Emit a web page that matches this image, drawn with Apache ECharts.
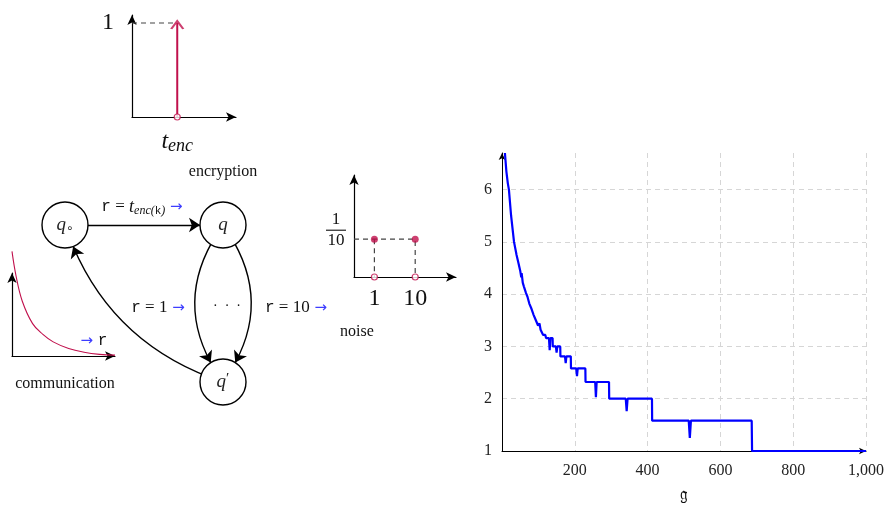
<!DOCTYPE html>
<html>
<head>
<meta charset="utf-8">
<script src="https://cdn.jsdelivr.net/npm/echarts@6/dist/echarts.min.js"></script>
<style>
  html, body { margin: 0; padding: 0; background: #fff; }
  #chart { width: 890px; height: 509px; }
</style>
</head>
<body>
<div id="chart"></div>
<script>
// main plot (cost against g)
const gValues = [8, 12, 16, 19, 25, 33, 40, 45, 50, 53, 54, 57, 60, 62, 66, 70, 72, 75, 78, 81, 84, 87, 91, 93, 97, 99, 103, 106, 111, 113, 119, 121, 129, 131, 133, 139, 139.5, 148, 150, 152, 160, 160.5, 173, 175, 177, 189, 189.5, 204, 206, 208, 229, 229.5, 256, 258, 260, 294, 294.5, 340, 342.5, 345, 412, 412.5, 513, 516, 519, 686, 687, 1000]
const costValues = [6.70, 6.35, 6.12, 6.00, 5.50, 5.00, 4.75, 4.60, 4.45, 4.32, 4.40, 4.22, 4.15, 4.18, 4.02, 3.95, 3.97, 3.82, 3.85, 3.72, 3.75, 3.60, 3.60, 3.50, 3.50, 3.40, 3.44, 3.32, 3.32, 3.22, 3.22, 3.16, 3.16, 2.93, 3.16, 3.16, 3.00, 3.00, 2.88, 3.00, 3.00, 2.81, 2.81, 2.68, 2.81, 2.81, 2.58, 2.58, 2.43, 2.58, 2.58, 2.32, 2.32, 2.03, 2.32, 2.32, 2.00, 2.00, 1.76, 2.00, 2.00, 1.58, 1.58, 1.25, 1.58, 1.58, 1.00, 1.00]

// encryption sketch
const tEnc = 0.435
const encProb = 1

// noise sketch
const noiseCats = ['', '1', '', '10', '', '']
const noiseIdx = [1, 3]
const noiseProb = [0.1, 0.1]

// communication sketch
const commX = [0, 0.04, 0.1, 0.2, 0.3, 0.4, 0.55, 0.7, 0.85, 1.0]
const commY = [1.26, 0.96, 0.66, 0.39, 0.26, 0.17, 0.09, 0.045, 0.02, 0.01]

// automaton states and transitions
const stateNames = ['q0', 'q', 'q1']
const stateX = [65, 223, 223]
const stateY = [225, 225, 382]
const transitions = [['q0', 'q', 0], ['q', 'q1', -0.36], ['q', 'q1', 0.36], ['q1', 'q0', 0.25]]

const SERIF = 'Liberation Serif'
const MONO = 'Liberation Mono'
const RED = '#c0104c'
const BLUE = '#0000ff'
const ARROWBLUE = '#3d3dff'

// zrender style names (fill) for graphic texts
const rich = {
  tt: { fontFamily: MONO, fontSize: 16, fill: '#111' },
  rm: { fontFamily: SERIF, fontSize: 17, fill: '#111' },
  it: { fontFamily: SERIF, fontStyle: 'italic', fontSize: 18, fill: '#111', lineHeight: 20 },
  sub: { fontFamily: SERIF, fontStyle: 'italic', fontSize: 12, fill: '#111', verticalAlign: 'bottom', lineHeight: 12 },
  subtt: { fontFamily: MONO, fontSize: 11, fill: '#111', verticalAlign: 'bottom', lineHeight: 12 },
  arr: { fontFamily: 'DejaVu Sans', fontSize: 15, fill: ARROWBLUE }
}

function noteText (x, y, text, extra) {
  return {
    type: 'text',
    x: x,
    y: y,
    z: 50,
    style: Object.assign({
      text: text,
      rich: rich,
      fontFamily: SERIF,
      fontSize: 16,
      fill: '#111',
      align: 'center',
      verticalAlign: 'middle'
    }, extra || {})
  }
}

const chart = echarts.init(document.getElementById('chart'))

const stateLabels = {
  q0: '{q|q}{s|∘}',
  q: '{q|q}',
  q1: '{q|q}{p|′}'
}

const dashed = { color: '#444', width: 1.2, type: [5, 4] }

chart.setOption({
  animation: false,
  grid: [
    { left: 502, top: 153, width: 364, height: 301 },
    { left: 132, top: 15, width: 104, height: 102 },
    { left: 354, top: 175, width: 102, height: 102 },
    { left: 12, top: 273, width: 103, height: 83 },
    { left: 0, top: 0, width: 890, height: 509 }
  ],
  xAxis: [
    {
      gridIndex: 0, type: 'value', min: 0, max: 1000, interval: 200,
      name: '𝔤', nameLocation: 'middle', nameGap: 36,
      nameTextStyle: { fontFamily: 'DejaVu Serif', fontSize: 17, color: '#111' },
      axisLine: { onZero: false, symbol: ['none', 'arrow'], symbolSize: [5, 7], lineStyle: { color: '#000', width: 1 } },
      axisTick: { show: false },
      axisLabel: {
        margin: 12, fontFamily: SERIF, fontSize: 16, color: '#222',
        formatter: v => v === 0 ? '' : v.toLocaleString('en-US')
      },
      splitLine: { show: true, lineStyle: { type: [5, 4], color: '#d6d6d6', width: 1 } }
    },
    {
      gridIndex: 1, type: 'value', min: 0, max: 1,
      axisLine: { symbol: ['none', 'arrow'], symbolSize: [7, 10], lineStyle: { color: '#000', width: 1.2 } },
      axisTick: { show: false },
      axisLabel: {
        customValues: [tEnc], margin: 12,
        formatter: () => '{t|t}{s|enc}',
        rich: {
          t: { fontFamily: SERIF, fontStyle: 'italic', fontSize: 24, color: '#111', lineHeight: 26 },
          s: { fontFamily: SERIF, fontStyle: 'italic', fontSize: 18, color: '#111', verticalAlign: 'bottom', lineHeight: 16 }
        }
      },
      splitLine: { show: false }
    },
    {
      gridIndex: 2, type: 'category', data: noiseCats, boundaryGap: false,
      axisLine: { symbol: ['none', 'arrow'], symbolSize: [7, 10], lineStyle: { color: '#000', width: 1.2 } },
      axisTick: { show: false },
      axisLabel: { interval: 0, margin: 10, fontFamily: SERIF, fontSize: 24, color: '#111' },
      splitLine: { show: false }
    },
    {
      gridIndex: 3, type: 'value', min: 0, max: 1,
      axisLine: { symbol: ['none', 'arrow'], symbolSize: [7, 10], lineStyle: { color: '#000', width: 1.2 } },
      axisTick: { show: false },
      axisLabel: { show: false },
      splitLine: { show: false }
    },
    { gridIndex: 4, type: 'value', min: 0, max: 890, show: false }
  ],
  yAxis: [
    {
      gridIndex: 0, type: 'value', min: 1, max: 6.7, interval: 1,
      axisLine: { show: true, onZero: false, symbol: ['none', 'arrow'], symbolSize: [5, 7], lineStyle: { color: '#000', width: 1 } },
      axisTick: { show: false },
      axisLabel: {
        margin: 10, fontFamily: SERIF, fontSize: 16, color: '#222',
        formatter: v => Number.isInteger(v) ? String(v) : ''
      },
      splitLine: { show: true, showMaxLine: false, lineStyle: { type: [5, 4], color: '#d6d6d6', width: 1 } }
    },
    {
      gridIndex: 1, type: 'value', min: 0, max: 1.085,
      axisLine: { show: true, symbol: ['none', 'arrow'], symbolSize: [7, 10], lineStyle: { color: '#000', width: 1.2 } },
      axisTick: { show: false },
      axisLabel: { customValues: [encProb], margin: 18, fontFamily: SERIF, fontSize: 24, color: '#111' },
      splitLine: { show: false }
    },
    {
      gridIndex: 2, type: 'value', min: 0, max: 0.27,
      axisLine: { show: true, symbol: ['none', 'arrow'], symbolSize: [7, 10], lineStyle: { color: '#000', width: 1.2 } },
      axisTick: { show: false },
      axisLabel: {
        customValues: [0.1], margin: 18, padding: [0, 0, 18, 0], align: 'center',
        formatter: () => '{n|1}\n{b| }\n{d|10}',
        rich: {
          n: { fontFamily: SERIF, fontSize: 17, color: '#111', lineHeight: 17, align: 'center' },
          b: { width: 20, height: 1.2, lineHeight: 4, fontSize: 1, backgroundColor: '#222', align: 'center' },
          d: { fontFamily: SERIF, fontSize: 17, color: '#111', lineHeight: 17, align: 'center' }
        }
      },
      splitLine: { show: false }
    },
    {
      gridIndex: 3, type: 'value', min: 0, max: 1,
      axisLine: { show: true, symbol: ['none', 'arrow'], symbolSize: [7, 10], lineStyle: { color: '#000', width: 1.2 } },
      axisTick: { show: false },
      axisLabel: { show: false },
      splitLine: { show: false }
    },
    { gridIndex: 4, type: 'value', min: 0, max: 509, inverse: true, show: false }
  ],
  series: [
    {
      type: 'line', xAxisIndex: 0, yAxisIndex: 0,
      data: gValues.map((g, i) => [g, costValues[i]]),
      showSymbol: false,
      lineStyle: { color: BLUE, width: 2.2 },
      z: 5
    },
    // encryption
    {
      type: 'line', xAxisIndex: 1, yAxisIndex: 1,
      data: [[0, encProb], [tEnc, encProb]],
      symbol: 'none',
      lineStyle: dashed
    },
    {
      type: 'line', xAxisIndex: 1, yAxisIndex: 1,
      data: [[tEnc, 0], [tEnc, encProb]],
      symbol: 'none',
      lineStyle: { color: RED, width: 2 },
      z: 6
    },
    {
      type: 'scatter', xAxisIndex: 1, yAxisIndex: 1,
      data: [[tEnc, encProb]],
      symbol: 'path://M0,8L6,0L12,8', symbolSize: [12, 8], symbolOffset: [0, 2],
      itemStyle: { color: 'rgba(0,0,0,0)', borderColor: RED, borderWidth: 2 },
      z: 7
    },
    {
      type: 'scatter', xAxisIndex: 1, yAxisIndex: 1,
      data: [[tEnc, 0]],
      symbol: 'circle', symbolSize: 6,
      itemStyle: { color: '#fff', borderColor: RED, borderWidth: 1.2 },
      z: 7
    },
    // noise
    {
      type: 'line', xAxisIndex: 2, yAxisIndex: 2,
      data: [[0, noiseProb[0]], [noiseIdx[1], noiseProb[1]], [noiseIdx[1], 0]],
      symbol: 'none',
      lineStyle: dashed
    },
    {
      type: 'line', xAxisIndex: 2, yAxisIndex: 2,
      data: [[noiseIdx[0], noiseProb[0]], [noiseIdx[0], 0]],
      symbol: 'none',
      lineStyle: dashed
    },
    {
      type: 'scatter', xAxisIndex: 2, yAxisIndex: 2,
      data: noiseIdx.map((x, i) => [x, noiseProb[i]]),
      symbol: 'circle', symbolSize: 7,
      itemStyle: { color: RED },
      z: 6
    },
    {
      type: 'scatter', xAxisIndex: 2, yAxisIndex: 2,
      data: noiseIdx.map(x => [x, 0]),
      symbol: 'circle', symbolSize: 6,
      itemStyle: { color: '#fff', borderColor: RED, borderWidth: 1.2 },
      z: 6
    },
    // communication
    {
      type: 'line', xAxisIndex: 3, yAxisIndex: 3,
      data: commX.map((x, i) => [x, commY[i]]),
      smooth: 0.4, symbol: 'none', clip: false,
      lineStyle: { color: RED, width: 1.1 }
    },
    // automaton
    {
      type: 'graph', coordinateSystem: 'cartesian2d', xAxisIndex: 4, yAxisIndex: 4,
      symbol: 'circle', symbolSize: 46,
      itemStyle: { color: '#fff', borderColor: '#000', borderWidth: 1.4 },
      label: {
        show: true, position: 'inside',
        formatter: p => stateLabels[p.name],
        rich: {
          q: { fontFamily: SERIF, fontStyle: 'italic', fontSize: 19, color: '#222', lineHeight: 20 },
          s: { fontFamily: 'DejaVu Sans', fontSize: 12, color: '#222', verticalAlign: 'bottom', lineHeight: 14 },
          p: { fontFamily: SERIF, fontSize: 15, color: '#222', verticalAlign: 'top', lineHeight: 12 }
        }
      },
      edgeSymbol: ['none', 'arrow'],
      edgeSymbolSize: [0, 11],
      lineStyle: { color: '#000', width: 1.4, opacity: 1 },
      data: stateNames.map((n, i) => ({ name: n, value: [stateX[i], stateY[i]] })),
      links: transitions.map(t => ({ source: t[0], target: t[1], lineStyle: { curveness: t[2] } })),
      z: 4
    }
  ],
  graphic: [
    noteText(142, 207, '{tt|r}{rm| = }{it|t}{sub|enc(}{subtt|k}{sub|)}{arr| →}'),
    noteText(158, 308, '{tt|r}{rm| = 1}{arr| →}'),
    noteText(227, 306, '·  ·  ·', { fontSize: 14 }),
    noteText(296, 308, '{tt|r}{rm| = 10}{arr| →}'),
    noteText(94, 341, '{arr|→ }{tt|r}'),
    noteText(223, 172, 'encryption'),
    noteText(357, 332, 'noise'),
    noteText(65, 384, 'communication')
  ]
})
</script>
</body>
</html>
